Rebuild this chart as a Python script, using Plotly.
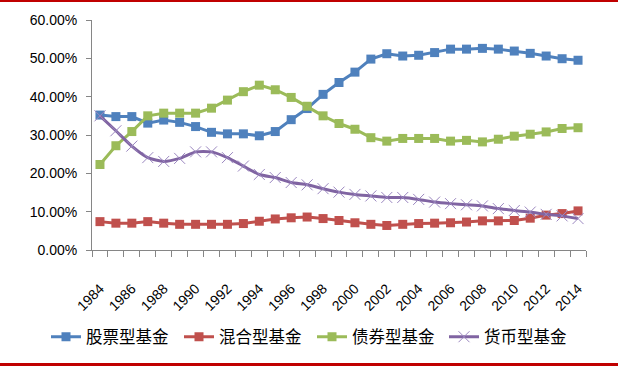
import plotly.graph_objects as go

years = list(range(1984, 2015))
stock = [35.2, 34.8, 34.8, 33.1, 33.9, 33.3, 32.2, 30.7, 30.3, 30.3, 29.8, 30.9, 34.0, 36.9,
         40.6, 43.7, 46.4, 49.8, 51.2, 50.6, 50.8, 51.5, 52.4, 52.4, 52.6, 52.4, 51.9, 51.3,
         50.6, 49.9, 49.5]
mixed = [7.4, 7.0, 7.0, 7.4, 7.0, 6.7, 6.7, 6.7, 6.7, 6.9, 7.5, 8.1, 8.4, 8.6,
         8.2, 7.7, 7.1, 6.7, 6.4, 6.7, 6.9, 7.0, 7.1, 7.3, 7.6, 7.6, 7.7, 8.3,
         9.1, 9.5, 10.2]
bond = [22.3, 27.2, 30.9, 35.0, 35.7, 35.7, 35.7, 37.0, 39.1, 41.3, 43.0, 41.8, 39.8, 37.5,
        35.0, 33.0, 31.5, 29.3, 28.4, 29.1, 29.1, 29.1, 28.4, 28.6, 28.2, 28.9, 29.7, 30.2,
        30.8, 31.7, 31.9]
money = [35.0, 31.1, 27.1, 24.1, 23.1, 23.9, 25.6, 25.6, 24.1, 21.9, 19.7, 18.9, 17.6, 17.0,
         16.0, 15.1, 14.5, 14.1, 13.7, 13.7, 13.2, 12.5, 12.1, 11.8, 11.5, 10.8, 10.3, 9.9,
         9.3, 8.9, 8.2]
names = ["股票型基金", "混合型基金", "债券型基金", "货币型基金"]
label_years = list(range(1984, 2015, 2))
y_ticks = [0, 0.1, 0.2, 0.3, 0.4, 0.5, 0.6]

fig = go.Figure()
def pct(v):
    return [x / 100 for x in v]

fig.add_trace(go.Scatter(x=years, y=pct(stock), name=names[0], mode="lines+markers",
                         line=dict(color="#4F81BD", width=3), legend="legend",
                         marker=dict(symbol="square", size=9, color="#4F81BD")))
fig.add_trace(go.Scatter(x=years, y=pct(mixed), name=names[1], mode="lines+markers",
                         line=dict(color="#C0504D", width=3), legend="legend2",
                         marker=dict(symbol="square", size=9, color="#C0504D")))
fig.add_trace(go.Scatter(x=years, y=pct(bond), name=names[2], mode="lines+markers",
                         line=dict(color="#9BBB59", width=3), legend="legend3",
                         marker=dict(symbol="square", size=9, color="#9BBB59")))
fig.add_trace(go.Scatter(x=years, y=pct(money), name=names[3], mode="lines+markers",
                         line=dict(color="#8064A2", width=3, shape="spline", smoothing=0.6),
                         legend="legend4",
                         marker=dict(symbol="x-thin", size=11,
                                     line=dict(color="#9B87C0", width=1))))

def leg(xpx):
    return dict(orientation="h", xref="container", yref="container",
                x=xpx / 618, xanchor="left", y=1 - 337 / 366, yanchor="middle",
                font=dict(size=16.5, family="Noto Sans CJK SC"),
                bgcolor="rgba(0,0,0,0)")

fig.update_layout(
    width=618, height=366,
    margin=dict(l=92, r=32, t=20, b=116, autoexpand=False),
    plot_bgcolor="white", paper_bgcolor="white",
    font=dict(family="Liberation Sans, Arial", color="black"),
    xaxis=dict(range=[1983.5, 2014.5], tickvals=label_years, ticktext=[str(y) for y in label_years],
               tickangle=-45, ticks="", showgrid=False, zeroline=False,
               showline=True, linecolor="#868686", linewidth=1,
               tickfont=dict(size=14, family="Liberation Sans"),
               ticklabelstandoff=24,
               minor=dict(ticks="outside", tick0=1983.5, dtick=1, ticklen=6,
                          tickcolor="#868686", showgrid=False)),
    yaxis=dict(range=[0, 0.6], tickvals=y_ticks, tickformat=".2%", ticks="outside",
               ticklen=5, tickcolor="#868686", showgrid=False, zeroline=False,
               showline=True, linecolor="#868686", linewidth=1,
               tickfont=dict(size=14, family="Liberation Sans"),
               ticklabelstandoff=6),
    legend=leg(46), legend2=leg(179), legend3=leg(312), legend4=leg(444),
    showlegend=True,
)

# red page borders at top and bottom
h_plot = 230.0
w_plot = 494.0
x0 = -92 / w_plot
x1 = (618 - 92) / w_plot
for ya, yb in [(-6, 2), (363, 372)]:
    fig.add_shape(type="rect", xref="paper", yref="paper", x0=x0, x1=x1,
                  y0=(250 - ya) / h_plot, y1=(250 - yb) / h_plot,
                  line=dict(width=0), fillcolor="#C00000", layer="above")

post = (
    "document.body.style.margin='0';document.body.style.overflow='hidden';window.scrollTo(0,0);"
    "var d=document.createElement('div');"
    "d.style.cssText='position:fixed;top:0;left:0;width:100%;height:2px;background:#C00000;z-index:10;pointer-events:none';"
    "document.body.appendChild(d);"
)
fig.write_html("out.html", config={"displayModeBar": False}, post_script=post)
